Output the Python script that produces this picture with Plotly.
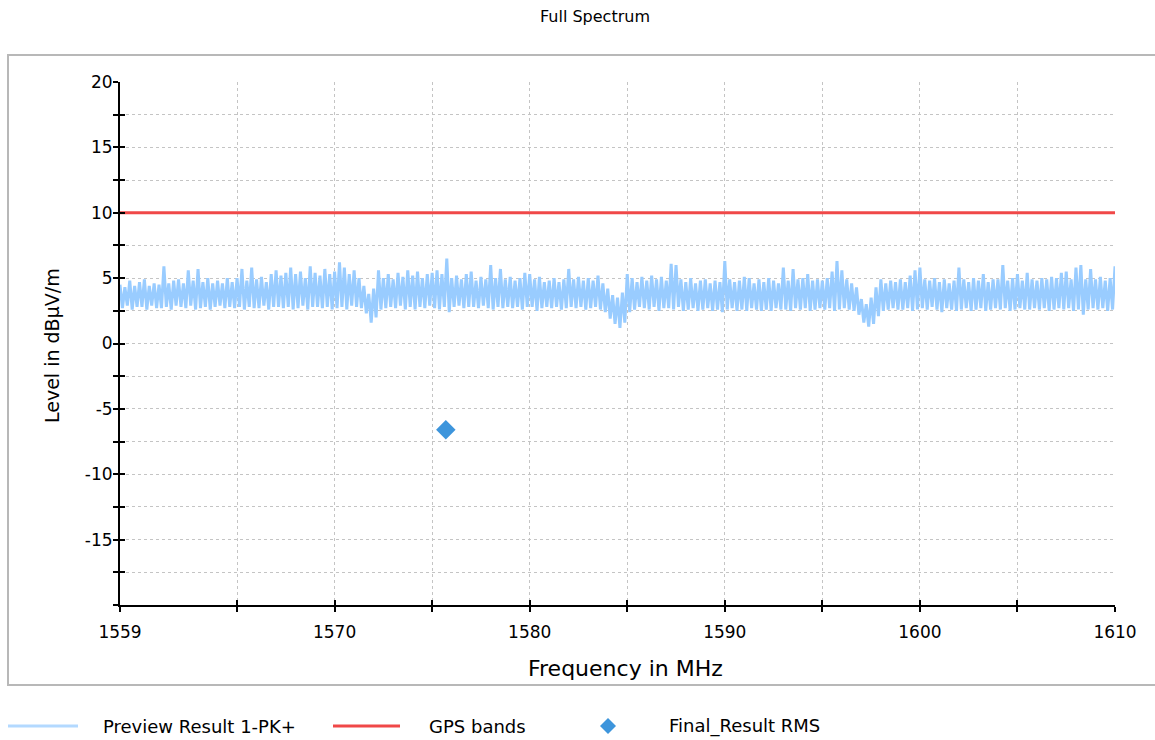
import plotly.graph_objects as go

# ---------------- data ----------------
FREQ_START_MHZ = 1559.0
FREQ_STEP_MHZ = 0.25

# Preview Result 1-PK+ : peak (upper) and trough (lower) envelope, one value per 0.25 MHz
PEAK_LEVEL = [
    4.5, 4.3, 4.8, 4.4,  4.7, 4.9, 4.4, 4.6,  4.5, 5.9, 4.6, 4.8,  4.9, 4.6, 5.6, 4.8,
    5.7, 4.7, 5.0, 4.6,  4.8, 4.6, 5.0, 4.7,  5.0, 5.7, 4.8, 5.8,  4.9, 5.1, 4.7, 5.3,
    5.6, 5.2, 5.4, 5.8,  5.3, 5.5, 5.0, 5.9,  5.4, 5.2, 5.7, 5.3,  5.5, 6.2, 5.8, 5.3,
    5.6, 5.0, 4.4, 3.8,  4.2, 5.6, 5.0, 5.3,  4.9, 5.4, 5.1, 5.6,  5.2, 5.5, 5.0, 5.3,
    5.4, 5.6, 5.3, 6.5,  5.0, 5.2, 4.9, 5.3,  5.5, 4.8, 5.1, 4.9,  6.0, 5.0, 5.7, 4.9,
    5.1, 4.8, 5.0, 5.4,  5.3, 4.9, 5.1, 4.7,  4.8, 5.0, 4.7, 4.9,  5.7, 4.9, 5.1, 4.8,
    5.0, 4.8, 5.2, 4.6,  4.2, 3.7, 3.5, 3.9,  5.3, 5.0, 4.7, 5.1,  4.8, 5.2, 4.9, 5.1,
    4.8, 6.1, 6.0, 4.9,  4.7, 5.0, 4.6, 4.8,  4.9, 4.6, 4.8, 4.7,  6.3, 4.9, 4.7, 4.8,
    5.1, 5.0, 4.6, 4.9,  4.7, 5.0, 4.8, 4.6,  5.8, 4.8, 5.7, 4.9,  5.0, 5.3, 4.8, 4.9,
    4.8, 5.0, 5.5, 6.3,  5.6, 4.9, 4.6, 4.3,  3.4, 3.0, 3.5, 4.3,  4.9, 4.6, 4.8, 4.7,
    4.9, 4.7, 5.2, 5.6,  5.8, 4.9, 4.8, 5.0,  4.7, 4.9, 4.6, 4.8,  5.8, 4.9, 4.7, 5.0,
    4.8, 5.3, 4.7, 4.9,  4.9, 6.0, 4.8, 5.0,  5.3, 4.8, 5.4, 4.9,  4.8, 5.0, 4.9, 5.1,
    5.0, 5.4, 5.5, 4.9,  5.8, 6.0, 4.9, 5.7,  4.9, 5.1, 4.8, 5.0,  5.9,
]
TROUGH_LEVEL = [
    2.7, 2.9, 2.6, 2.8,  2.8, 2.6, 2.9, 2.7,  2.7, 2.8, 2.6, 2.9,  2.8, 2.7, 2.9, 2.6,
    2.7, 2.8, 2.6, 2.8,  2.9, 2.7, 2.8, 2.7,  2.8, 2.6, 2.8, 2.7,  2.7, 2.9, 2.6, 2.8,
    2.8, 2.7, 2.8, 2.6,  2.7, 2.9, 2.6, 2.8,  2.8, 2.7, 2.8, 2.6,  2.7, 2.8, 2.6, 2.9,
    2.8, 2.7, 2.3, 1.6,  2.0, 2.6, 2.7, 2.8,  2.7, 2.9, 2.6, 2.8,  2.6, 2.8, 2.7, 2.9,
    2.7, 2.6, 2.8, 2.4,  2.8, 2.9, 2.7, 2.8,  2.8, 2.7, 2.9, 2.7,  2.6, 2.8, 2.7, 2.8,
    2.7, 2.8, 2.6, 2.8,  2.8, 2.5, 2.7, 2.8,  2.7, 2.8, 2.6, 2.7,  2.8, 2.7, 2.8, 2.6,
    2.7, 2.8, 2.6, 2.4,  1.9, 1.5, 1.2, 1.6,  2.4, 2.6, 2.8, 2.7,  2.6, 2.8, 2.5, 2.7,
    2.7, 2.6, 2.8, 2.5,  2.6, 2.7, 2.5, 2.6,  2.7, 2.5, 2.6, 2.4,  2.6, 2.7, 2.5, 2.6,
    2.5, 2.7, 2.6, 2.5,  2.6, 2.5, 2.7, 2.6,  2.6, 2.5, 2.7, 2.6,  2.7, 2.5, 2.6, 2.7,
    2.6, 2.7, 2.5, 2.6,  2.7, 2.6, 2.5, 2.2,  1.6, 1.3, 1.5, 2.1,  2.5, 2.6, 2.7, 2.6,
    2.6, 2.7, 2.5, 2.6,  2.7, 2.6, 2.8, 2.6,  2.4, 2.7, 2.6, 2.5,  2.6, 2.7, 2.5, 2.6,
    2.7, 2.5, 2.6, 2.7,  2.6, 2.7, 2.5, 2.6,  2.7, 2.6, 2.6, 2.7,  2.6, 2.7, 2.5, 2.6,
    2.7, 2.6, 2.7, 2.5,  2.6, 2.2, 2.6, 2.7,  2.6, 2.7, 2.5, 2.6,  2.7,
]

GPS_BAND_FREQ = [1559.0, 1610.0]
GPS_BAND_LEVEL = [10.0, 10.0]

FINAL_FREQ = [1575.7]
FINAL_LEVEL = [-6.6]

X_TICK_VALUES = [1559, 1565, 1570, 1575, 1580, 1585, 1590, 1595, 1600, 1605, 1610]
X_TICK_LABELS = ["1559", "", "1570", "", "1580", "", "1590", "", "1600", "", "1610"]
Y_TICK_VALUES = [-20, -17.5, -15, -12.5, -10, -7.5, -5, -2.5, 0, 2.5, 5, 7.5, 10, 12.5, 15, 17.5, 20]
Y_TICK_LABELS = ["", "", "-15", "", "-10", "", "-5", "", "0", "", "5", "", "10", "", "15", "", "20"]

TITLE = "Full Spectrum"
X_TITLE = "Frequency in MHz"
Y_TITLE = "Level in dBµV/m"
LEGEND_NAMES = ["Preview Result 1-PK+", "GPS bands", "Final_Result RMS"]

# ---------------- styling ----------------
FONT = "DejaVu Sans, Arial, sans-serif"
C_PREVIEW = "#99ccff"
C_GPS = "#f04848"
C_FINAL = "#3d95dc"
C_GRID = "#c4c4c4"

W, H = 1155, 740
L, R, T, B = 120, 40, 82, 135
PW, PH = W - L - R, H - T - B


def px(xp):
    return (xp - L) / PW


def py(yp):
    return (H - B - yp) / PH


# build the zig-zag spectrum from the envelopes
xs, ys = [], []
for i, (hi, lo) in enumerate(zip(PEAK_LEVEL, TROUGH_LEVEL)):
    f = FREQ_START_MHZ + i * FREQ_STEP_MHZ
    xs.append(f)
    ys.append(hi)
    if i < len(PEAK_LEVEL) - 1:
        xs.append(f + FREQ_STEP_MHZ / 2)
        ys.append(lo)

fig = go.Figure()
fig.add_trace(go.Scatter(x=xs, y=ys, mode="lines", line=dict(color=C_PREVIEW, width=3),
                         name=LEGEND_NAMES[0], showlegend=False, hoverinfo="skip"))
fig.add_trace(go.Scatter(x=GPS_BAND_FREQ, y=GPS_BAND_LEVEL, mode="lines",
                         line=dict(color=C_GPS, width=3), name=LEGEND_NAMES[1], showlegend=False))
fig.add_trace(go.Scatter(x=FINAL_FREQ, y=FINAL_LEVEL, mode="markers",
                         marker=dict(symbol="diamond", size=15, color=C_FINAL),
                         name=LEGEND_NAMES[2], showlegend=False))
# invisible trace to activate the overlay axes (inner half of crossing ticks)
fig.add_trace(go.Scatter(x=[1559], y=[-20], xaxis="x2", yaxis="y2", mode="markers",
                         marker=dict(opacity=0), showlegend=False, hoverinfo="skip"))

axis_font = dict(family=FONT, size=17, color="#000000")
fig.update_layout(
    width=W, height=H,
    margin=dict(l=L, r=R, t=T, b=B),
    paper_bgcolor="white", plot_bgcolor="white",
    font=dict(family=FONT, color="#000000"),
    showlegend=False,
    title=dict(text=TITLE, x=595 / W, xref="container", xanchor="center",
               y=1 - 16 / H, yref="container", yanchor="middle",
               font=dict(family=FONT, size=16, color="#000000")),
    xaxis=dict(range=[1559, 1610], tickmode="array", tickvals=X_TICK_VALUES, ticktext=X_TICK_LABELS,
               ticks="outside", ticklen=5, tickwidth=2, tickcolor="black",
               showline=True, linecolor="black", linewidth=2,
               showgrid=True, gridcolor=C_GRID, griddash="dot", gridwidth=1,
               zeroline=False, tickfont=axis_font, ticklabelstandoff=6),
    yaxis=dict(range=[-20, 20], tickmode="array", tickvals=Y_TICK_VALUES, ticktext=Y_TICK_LABELS,
               ticks="outside", ticklen=5, tickwidth=2, tickcolor="black",
               showline=True, linecolor="black", linewidth=2,
               showgrid=True, gridcolor=C_GRID, griddash="dot", gridwidth=1,
               zeroline=False, tickfont=axis_font, ticklabelstandoff=-3),
    xaxis2=dict(range=[1559, 1610], overlaying="x", anchor="y2", side="bottom",
                tickmode="array", tickvals=X_TICK_VALUES, ticks="inside", ticklen=5, tickwidth=2,
                tickcolor="black", showticklabels=False, showgrid=False, showline=False, zeroline=False),
    yaxis2=dict(range=[-20, 20], overlaying="y", anchor="x2", side="left",
                tickmode="array", tickvals=Y_TICK_VALUES, ticks="inside", ticklen=5, tickwidth=2,
                tickcolor="black", showticklabels=False, showgrid=False, showline=False, zeroline=False),
)

shapes = [
    dict(type="rect", xref="paper", yref="paper", x0=px(8), x1=px(1160), y0=py(685), y1=py(55),
         line=dict(color="#b8b8b8", width=2), fillcolor="rgba(0,0,0,0)", layer="below"),
    dict(type="line", xref="paper", yref="paper", x0=px(8), x1=px(78), y0=py(726), y1=py(726),
         line=dict(color="#b3d9ff", width=3)),
    dict(type="line", xref="paper", yref="paper", x0=px(333), x1=px(400), y0=py(726), y1=py(726),
         line=dict(color=C_GPS, width=3)),
]
dx, dy = 8 / PW, 8 / PH
cx, cy = px(608), py(726)
shapes.append(dict(type="path", xref="paper", yref="paper",
                   path=f"M {cx - dx},{cy} L {cx},{cy + dy} L {cx + dx},{cy} L {cx},{cy - dy} Z",
                   fillcolor=C_FINAL, line=dict(width=0)))
fig.update_layout(shapes=shapes)

ann = [
    dict(text=X_TITLE, x=px(625), y=py(668), xref="paper", yref="paper", showarrow=False,
         xanchor="center", yanchor="middle", font=dict(family=FONT, size=22)),
    dict(text=Y_TITLE, x=px(52), y=py(346), xref="paper", yref="paper", showarrow=False,
         textangle=-90, xanchor="center", yanchor="middle", font=dict(family=FONT, size=19)),
    dict(text=LEGEND_NAMES[0], x=px(101), y=py(726), xref="paper", yref="paper", showarrow=False,
         xanchor="left", yanchor="middle", font=dict(family=FONT, size=18)),
    dict(text=LEGEND_NAMES[1], x=px(427), y=py(726), xref="paper", yref="paper", showarrow=False,
         xanchor="left", yanchor="middle", font=dict(family=FONT, size=18)),
    dict(text=LEGEND_NAMES[2], x=px(667), y=py(726), xref="paper", yref="paper", showarrow=False,
         xanchor="left", yanchor="middle", font=dict(family=FONT, size=18)),
]
fig.update_layout(annotations=ann)

fig.write_html("out.html")
